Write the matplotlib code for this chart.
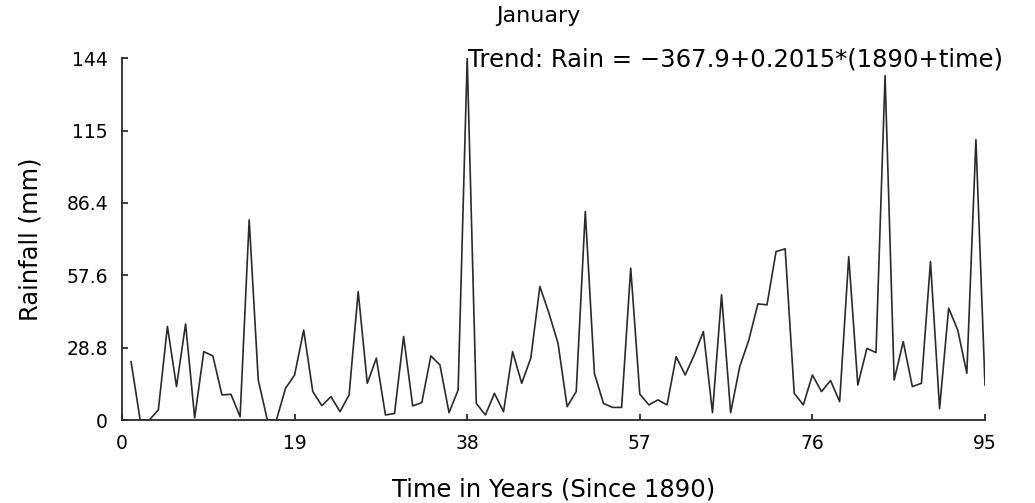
import matplotlib
matplotlib.use("Agg")
import matplotlib.pyplot as plt
import numpy as np

years = list(range(1, 96))
rainfall = [
    23.2, 0.0, 0.0, 4.0, 37.2, 13.3, 38.2, 0.8, 27.2, 25.5,
    10.0, 10.2, 1.3, 79.6, 15.9, 0.0, 0.0, 12.6, 17.9, 35.8,
    11.3, 5.7, 9.3, 3.3, 10.0, 51.1, 14.6, 24.6, 2.0, 2.6,
    33.2, 5.6, 6.9, 25.5, 21.9, 2.9, 11.9, 144.0, 6.6, 2.0,
    10.6, 3.3, 27.2, 14.6, 24.6, 53.1, 42.5, 30.5, 5.3, 11.3,
    82.9, 18.6, 6.6, 5.0, 5.0, 60.4, 10.3, 6.0, 8.0, 6.0,
    25.2, 17.9, 25.9, 35.2, 2.9, 49.8, 2.9, 21.2, 31.8, 46.2,
    45.8, 67.0, 68.1, 10.6, 6.0, 17.9, 11.3, 15.7, 7.3, 65.0,
    13.9, 28.5, 26.8, 137.0, 15.9, 31.2, 13.3, 14.6, 63.0, 4.5,
    44.5, 35.8, 18.6, 111.5, 13.9,
]
x_ticks = [0, 19, 38, 57, 76, 95]
y_ticks = [0, 28.8, 57.6, 86.4, 115, 144]
y_tick_labels = ["0", "28.8", "57.6", "86.4", "115", "144"]

title = "January"
subtitle = "Trend: Rain = \u2212367.9+0.2015*(1890+time)"
xlabel = "Time in Years (Since 1890)"
ylabel = "Rainfall (mm)"

plt.rcParams['font.family'] = ['DejaVu Sans']
fig = plt.figure(figsize=(10.35, 5.03), dpi=100)
ax = fig.add_axes([122/1035, 1 - 420/503, (985 - 122)/1035, (420 - 58)/503])

ax.plot(years, rainfall, color='#2a2a2a', linewidth=1.2)
ax.set_xlim(0, 95)
ax.set_ylim(0, 144)
ax.spines['top'].set_visible(False)
ax.spines['right'].set_visible(False)
for s in ('left', 'bottom'):
    ax.spines[s].set_linewidth(1.3)
    ax.spines[s].set_color('#2a2a2a')

ax.set_xticks(x_ticks)
ax.set_xticklabels([str(v) for v in x_ticks], fontsize=13.5)
ax.set_yticks(y_ticks)
ax.set_yticklabels(y_tick_labels, fontsize=13.5)
ax.tick_params(axis='both', direction='in', length=4, width=1.3, color='#2a2a2a')
ax.tick_params(axis='x', pad=10)
ax.tick_params(axis='y', pad=10)

ax.set_xlabel(xlabel, fontsize=17.5, labelpad=18)
ax.set_ylabel(ylabel, fontsize=17.5, labelpad=17)

fig.text(538/1035, 1 - 16/503, title, fontsize=16, ha='center', va='center')
fig.text(468/1035, 1 - 59/503, subtitle, fontsize=17.5, ha='left', va='center')

fig.savefig("out.png", dpi=100, facecolor='white')
